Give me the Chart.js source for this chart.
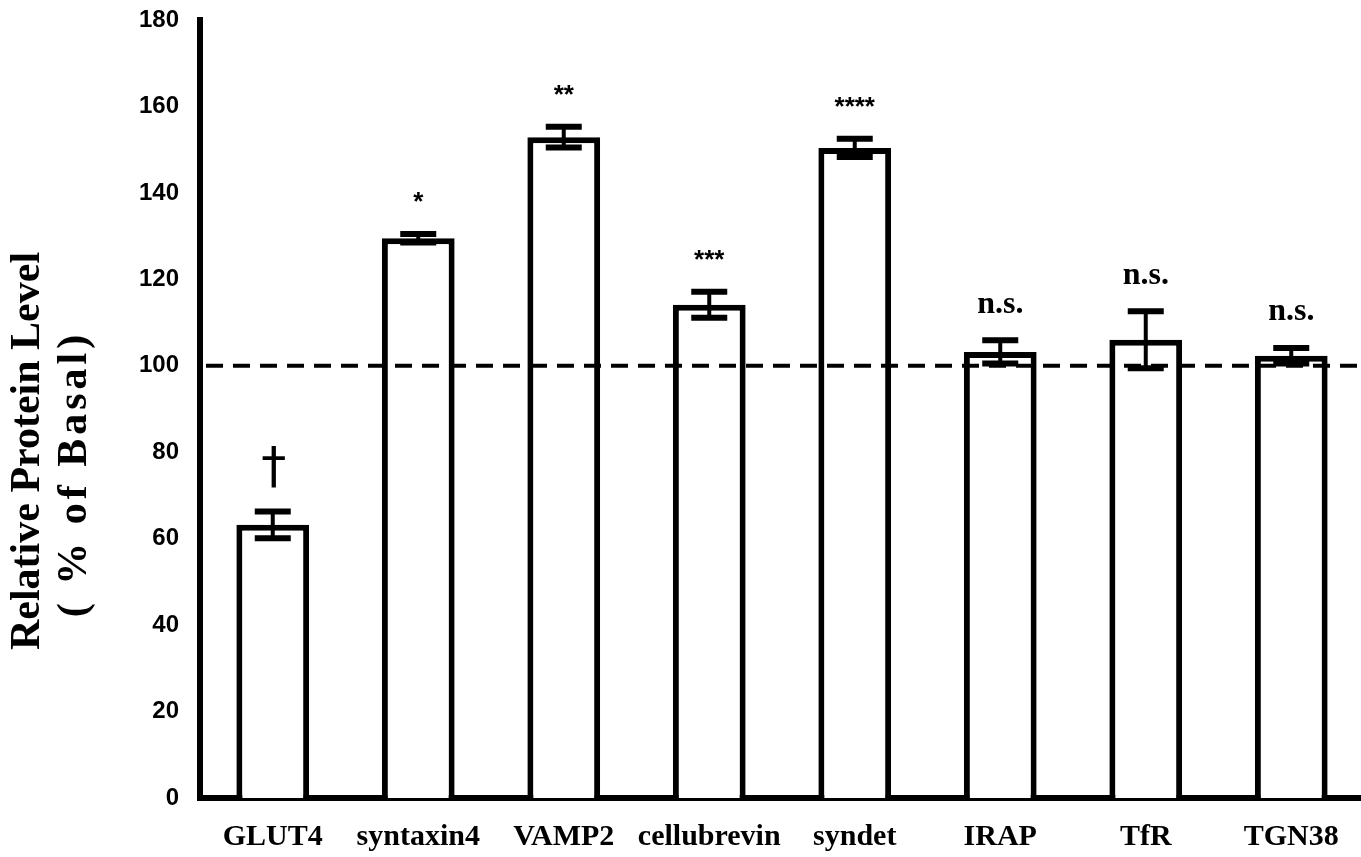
<!DOCTYPE html>
<html>
<head>
<meta charset="utf-8">
<script src="https://cdn.jsdelivr.net/npm/chart.js@4/dist/chart.umd.min.js"></script>
<style>
  html, body { margin: 0; padding: 0; background: #fff; overflow: hidden; }
  #wrap { width: 1364px; height: 857px; position: relative; }
</style>
</head>
<body>
<div id="wrap"><canvas id="c" width="1364" height="857"></canvas></div>
<script>
const categories = ["GLUT4", "syntaxin4", "VAMP2", "cellubrevin", "syndet", "IRAP", "TfR", "TGN38"];
const values     = [63.2, 129.5, 152.9, 114.1, 150.4, 103.2, 106.0, 102.3];
const errors     = [3.1, 1.0, 2.4, 3.0, 2.1, 2.7, 6.6, 1.8];
const marks      = ["†", "*", "**", "***", "****", "n.s.", "n.s.", "n.s."];
const baseline   = 100;
const yTicks     = [0, 20, 40, 60, 80, 100, 120, 140, 160, 180];
const yTitle     = ["Relative Protein Level", "( % of Basal)"];

const overlay = {
  id: 'overlay',
  afterDatasetsDraw(chart) {
    const ctx = chart.ctx;
    const x = chart.scales.x, y = chart.scales.y;
    const area = chart.chartArea;
    ctx.save();
    // dashed baseline
    ctx.strokeStyle = '#000';
    ctx.lineWidth = 4;
    ctx.setLineDash([17, 10]);
    const by = y.getPixelForValue(baseline);
    ctx.beginPath();
    ctx.moveTo(area.left + 6, by);
    ctx.lineTo(area.right, by);
    ctx.stroke();
    ctx.setLineDash([]);
    // error bars
    values.forEach((v, i) => {
      const cx = x.getPixelForValue(i);
      const yt = y.getPixelForValue(v + errors[i]);
      const yb = y.getPixelForValue(v - errors[i]);
      ctx.lineWidth = 4;
      ctx.beginPath();
      ctx.moveTo(cx, yt); ctx.lineTo(cx, yb);
      ctx.stroke();
      ctx.lineWidth = 6;
      ctx.beginPath();
      ctx.moveTo(cx - 18, yt); ctx.lineTo(cx + 18, yt);
      ctx.moveTo(cx - 18, yb); ctx.lineTo(cx + 18, yb);
      ctx.stroke();
      // significance marks
      const m = marks[i];
      ctx.fillStyle = '#000';
      ctx.textAlign = 'center';
      ctx.textBaseline = 'middle';
      if (m === '†') {
        ctx.font = 'normal 50px "DejaVu Sans"';
        ctx.fillText(m, cx + 1, yt - 42);
      } else if (m.startsWith('*')) {
        ctx.font = 'bold 26px "Liberation Sans"';
        ctx.fillText(m, cx, yt - 31);
      } else {
        ctx.font = 'bold 32px "Liberation Serif"';
        ctx.fillText(m, cx, yt - 36);
      }
    });
    ctx.restore();
  },
  afterDraw(chart) {
    const ctx = chart.ctx;
    ctx.save();
    ctx.fillStyle = '#000';
    ctx.font = 'bold 42px "Liberation Serif"';
    ctx.textAlign = 'center';
    ctx.textBaseline = 'middle';
    ctx.translate(28, 451);
    ctx.rotate(-Math.PI / 2);
    ctx.fillText(yTitle[0], 0, 0);
    ctx.restore();
    ctx.save();
    ctx.fillStyle = '#000';
    ctx.font = 'bold 42px "Liberation Serif"';
    ctx.letterSpacing = '4px';
    ctx.textAlign = 'center';
    ctx.textBaseline = 'middle';
    ctx.translate(75, 474);
    ctx.rotate(-Math.PI / 2);
    ctx.fillText(yTitle[1], 0, 0);
    ctx.restore();
  }
};

new Chart(document.getElementById('c'), {
  type: 'bar',
  data: {
    labels: categories,
    datasets: [{
      data: values,
      backgroundColor: '#fff',
      borderColor: '#000',
      borderWidth: 6,
      borderSkipped: 'start',
      barPercentage: 0.5,
      categoryPercentage: 1.0
    }]
  },
  options: {
    responsive: false,
    animation: false,
    layout: { padding: { top: 20, right: 0, left: 0, bottom: 0 } },
    plugins: { legend: { display: false }, tooltip: { enabled: false } },
    scales: {
      x: {
        grid: { display: false, drawTicks: false },
        border: { display: true, color: '#000', width: 6 },
        ticks: {
          color: '#000', padding: 21, maxRotation: 0, autoSkip: false,
          font: { family: '"Liberation Serif"', weight: 'bold', size: 30 }
        },
        afterFit(s) { s.height = 59; s.paddingLeft = 0; s.paddingRight = 0; }
      },
      y: {
        min: 0, max: 180,
        afterBuildTicks(s) { s.ticks = yTicks.map(v => ({ value: v })); },
        grid: { display: false, drawTicks: false },
        border: { display: true, color: '#000', width: 6 },
        ticks: {
          color: '#000', padding: 21,
          font: { family: '"Liberation Sans"', weight: 'bold', size: 24 }
        },
        afterFit(s) { s.width = 200; s.paddingTop = 0; s.paddingBottom = 0; }
      }
    }
  },
  plugins: [overlay]
});
</script>
</body>
</html>
